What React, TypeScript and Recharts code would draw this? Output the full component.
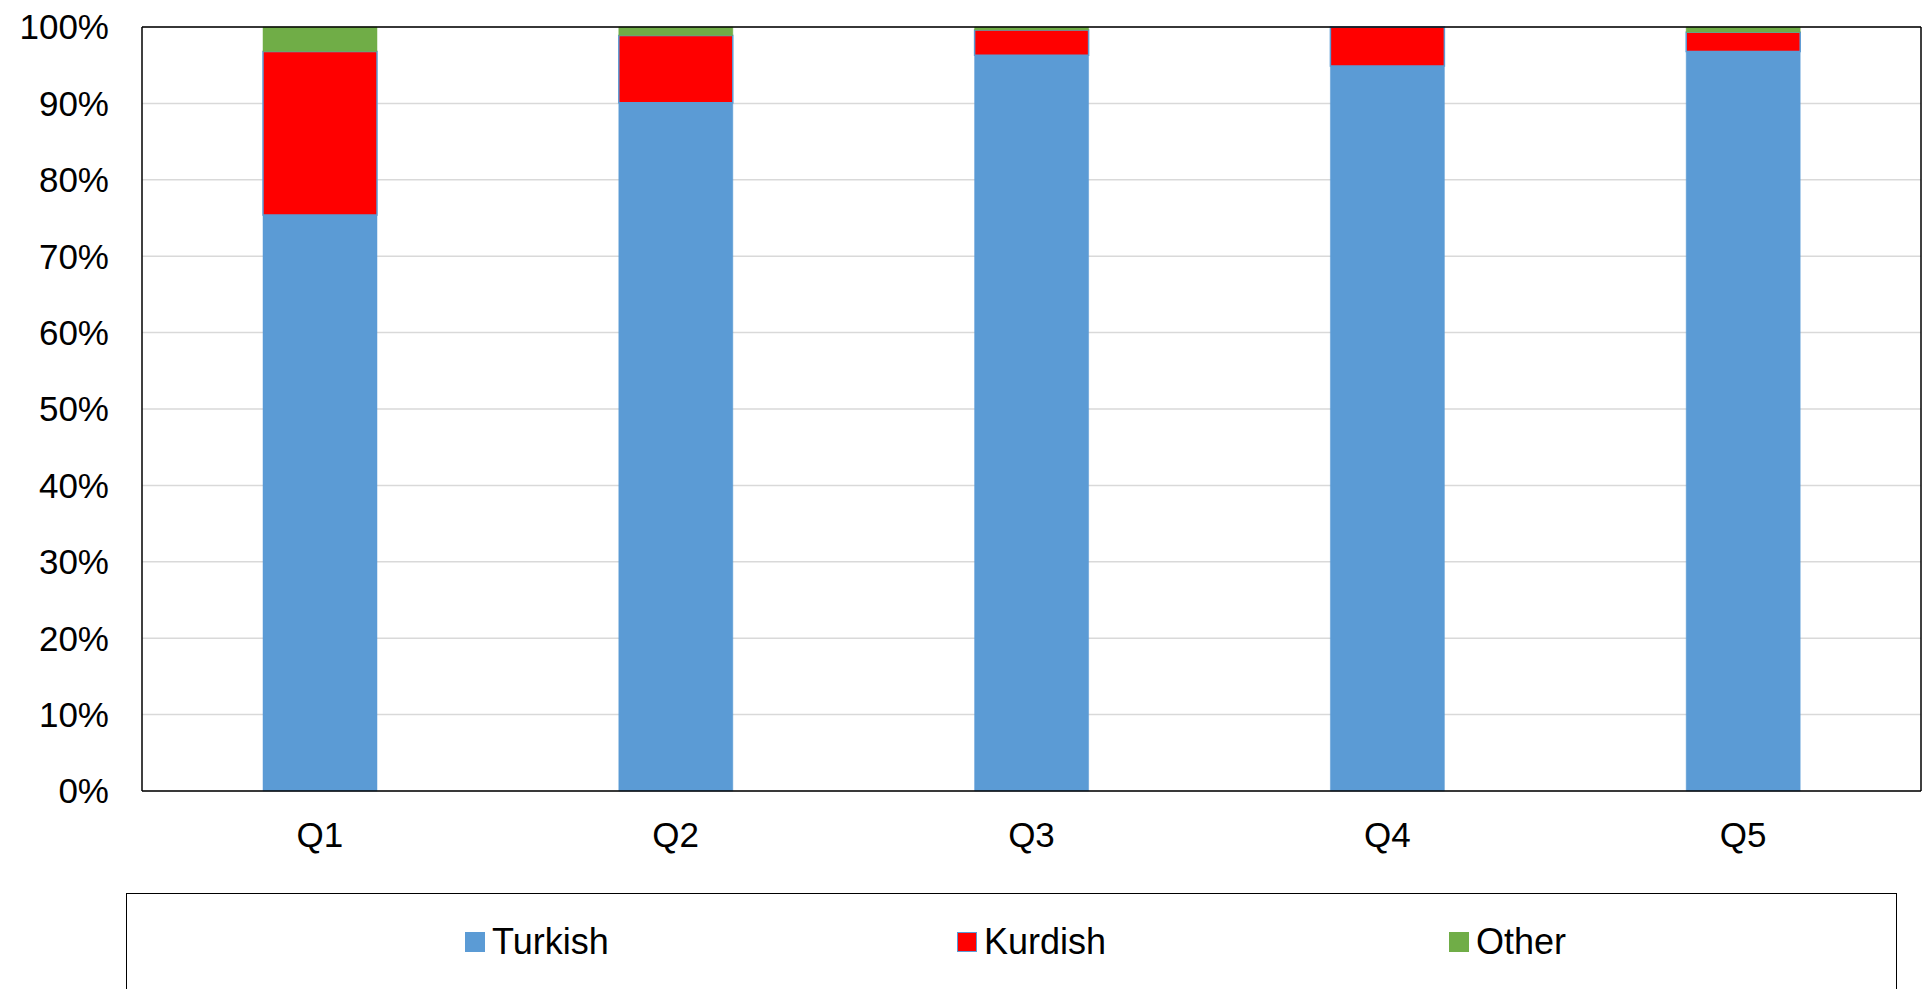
import { Bar, BarChart, CartesianGrid, Legend, XAxis, YAxis } from 'recharts';

const categories = ['Q1', 'Q2', 'Q3', 'Q4', 'Q5'];
const turkish = [75.4, 90.1, 96.3, 94.9, 96.8];
const kurdish = [21.4, 8.8, 3.3, 5.1, 2.5];
const other = [3.2, 1.1, 0.4, 0, 0.7];
const yTicks = [0, 10, 20, 30, 40, 50, 60, 70, 80, 90, 100];

const series = [
  { key: 'Turkish', fill: '#5B9BD5', stroke: '#5B9BD5' },
  { key: 'Kurdish', fill: '#FF0000', stroke: '#5B9BD5' },
  { key: 'Other', fill: '#70AD47', stroke: '#70AD47' },
];

const chartData = categories.map((name, i) => ({
  name,
  Turkish: turkish[i],
  Kurdish: kurdish[i],
  Other: other[i],
}));

const font = '"Liberation Sans", Arial, sans-serif';

const LegendBox = () => (
  <div
    style={{
      boxSizing: 'border-box',
      width: 1771,
      height: 96,
      border: '1.5px solid #000',
      borderBottom: 'none',
      display: 'flex',
      alignItems: 'center',
      paddingLeft: 338,
      fontFamily: font,
      fontSize: 36,
      color: '#000',
    }}
  >
    {series.map((s, i) => (
      <div
        key={s.key}
        style={{
          display: 'flex',
          alignItems: 'center',
          width: i < series.length - 1 ? 492 : 'auto',
        }}
      >
        <span
          style={{
            boxSizing: 'border-box',
            display: 'inline-block',
            width: 20,
            height: 20,
            background: s.fill,
            border: `1.5px solid ${s.stroke}`,
            marginRight: 7,
          }}
        />
        <span>{s.key}</span>
      </div>
    ))}
  </div>
);

export default function App() {
  return (
    <div style={{ position: 'absolute', left: 0, top: 0, background: '#fff' }}>
      <BarChart
        width={1926}
        height={989}
        data={chartData}
        margin={{ top: 26, right: 4, bottom: 138, left: 0 }}
      >
        <CartesianGrid vertical={false} stroke="#D9D9D9" strokeWidth={1.5} />
        <XAxis
          dataKey="name"
          stroke="#000"
          strokeWidth={1.5}
          tickLine={false}
          tickSize={0}
          tickMargin={31}
          height={60}
          tick={{ fill: '#000', fontSize: 35, fontFamily: font }}
        />
        <XAxis
          xAxisId="top"
          orientation="top"
          dataKey="name"
          stroke="#000"
          strokeWidth={1.5}
          tick={false}
          tickLine={false}
          height={1}
        />
        <YAxis
          domain={[0, 100]}
          ticks={yTicks}
          tickFormatter={(v) => `${v}%`}
          stroke="#000"
          strokeWidth={1.5}
          tickLine={false}
          tickSize={0}
          tickMargin={33}
          width={142}
          interval={0}
          tick={{ fill: '#000', fontSize: 35, fontFamily: font }}
        />
        <YAxis
          yAxisId="right"
          orientation="right"
          domain={[0, 100]}
          stroke="#000"
          strokeWidth={1.5}
          tick={false}
          tickLine={false}
          width={1}
        />
        {series.map((s) => (
          <Bar
            key={s.key}
            dataKey={s.key}
            stackId="a"
            fill={s.fill}
            stroke={s.stroke}
            strokeWidth={s.key === 'Kurdish' ? 1.5 : 0.5}
            barSize={114}
            isAnimationActive={false}
          />
        ))}
        <Legend
          layout="horizontal"
          verticalAlign="middle"
          align="center"
          wrapperStyle={{ left: 126, top: 893, width: 1771, height: 96 }}
          content={() => <LegendBox />}
        />
      </BarChart>
    </div>
  );
}
